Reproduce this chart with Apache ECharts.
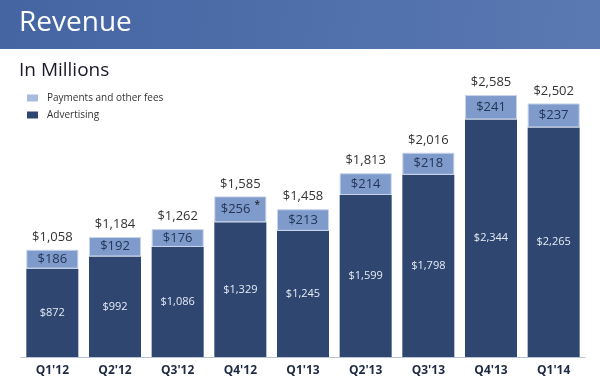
<!DOCTYPE html>
<html><head><meta charset="utf-8">
<script src="https://cdn.jsdelivr.net/npm/echarts@6/dist/echarts.min.js"></script>
<style>html,body{margin:0;padding:0;background:#fff}#c{width:600px;height:384px}</style>
</head><body><div id="c"></div>
<script>
var categories = ["Q1'12","Q2'12","Q3'12","Q4'12","Q1'13","Q2'13","Q3'13","Q4'13","Q1'14"];
var advertising = [872, 992, 1086, 1329, 1245, 1599, 1798, 2344, 2265];
var payments = [186, 192, 176, 256, 213, 214, 218, 241, 237];
var totals = [1058, 1184, 1262, 1585, 1458, 1813, 2016, 2585, 2502];
var footnoted = [false, false, false, true, false, false, false, false, false];

function money(v){ return '$' + v.toLocaleString('en-US'); }

var chart = echarts.init(document.getElementById('c'));
chart.setOption({
  animation: false,
  backgroundColor: '#ffffff',
  graphic: [
    { type: 'rect', shape: { x: 0, y: 0, width: 600, height: 49 },
      style: { fill: new echarts.graphic.LinearGradient(0, 0, 1, 1, [
        { offset: 0, color: '#4465a2' }, { offset: 1, color: '#5a79b3' }]) } },
    { type: 'text', left: 19, top: 9, style: { text: 'Revenue', fill: '#ffffff',
      font: '28px "Open Sans", Lato, sans-serif' } },
    { type: 'text', left: 19, top: 61, style: { text: 'In Millions', fill: '#1a1a2a',
      font: '19px "Open Sans", Lato, sans-serif' } }
  ],
  legend: {
    orient: 'vertical', left: 22, top: 88, itemWidth: 11, itemHeight: 7, itemGap: 7,
    icon: 'rect',
    textStyle: { fontFamily: '"Open Sans", sans-serif', fontSize: 10, color: '#333', padding: [0,0,0,4] },
    data: [
      { name: 'Payments and other fees', itemStyle: { color: '#a9bbdd', borderWidth: 0 } },
      { name: 'Advertising', itemStyle: { color: '#2e4670', borderWidth: 0 } }
    ]
  },
  grid: { left: 21, right: 15, top: 53, height: 304 },
  xAxis: {
    type: 'category', data: categories,
    axisLine: { lineStyle: { color: '#b8c3d6', width: 1 } },
    axisTick: { show: false },
    axisLabel: { color: '#1f2a44', fontWeight: 'bold', fontSize: 12, margin: 8,
      fontFamily: '"Open Sans", Arial, sans-serif' }
  },
  yAxis: { type: 'value', min: 0, max: 3000, show: false, splitLine: { show: false } },
  series: [
    { name: 'Advertising', type: 'bar', stack: 'r', data: advertising,
      barCategoryGap: '17%',
      itemStyle: { color: '#2e4670' },
      label: { show: true, position: 'inside', color: '#e6ebf5', fontSize: 11,
        fontFamily: '"Open Sans", sans-serif', formatter: function(p){ return money(p.value); } } },
    { name: 'Payments and other fees', type: 'bar', stack: 'r', data: payments,
      itemStyle: { color: '#7f9bcc', borderColor: '#c8d3ea', borderWidth: 1 },
      label: { show: true, position: 'inside', color: '#243556', fontSize: 13,
        fontFamily: '"Open Sans", sans-serif',
        formatter: function(p){ return money(p.value) + (footnoted[p.dataIndex] ? '{s|*}' : ''); },
        rich: { s: { fontSize: 10, color: '#111', verticalAlign: 'top', padding: [0,0,8,4] } } },
      markPoint: {
        symbol: 'rect', symbolSize: 0,
        label: { show: true, position: 'top', color: '#333', fontSize: 13, distance: 6,
          fontFamily: '"Open Sans", sans-serif', formatter: function(p){ return money(p.value); } },
        data: totals.map(function(t, i){ return { coord: [categories[i], t], value: t }; })
      } }
  ]
});
</script></body></html>
